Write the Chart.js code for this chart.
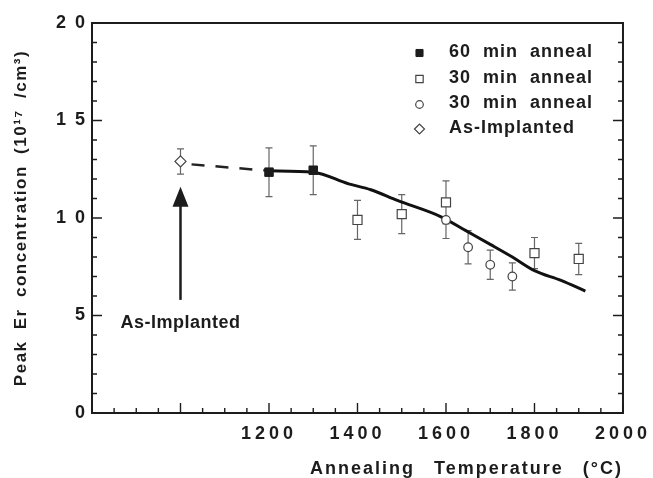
<!DOCTYPE html>
<html>
<head>
<meta charset="utf-8">
<script src="https://cdn.jsdelivr.net/npm/chart.js@4/dist/chart.umd.min.js"></script>
<style>
html,body{margin:0;padding:0;background:#fff;}
#wrap{width:653px;height:478px;position:relative;}
</style>
</head>
<body>
<div id="wrap"><canvas id="c"></canvas></div>
<script>
// ---- data ----
const temp60 = [1200, 1300];
const conc60 = [12.35, 12.45];
const err60 = [1.25, 1.25];

const temp30sq = [1400, 1500, 1600, 1800, 1900];
const conc30sq = [9.9, 10.2, 10.8, 8.2, 7.9];
const err30sq = [1.0, 1.0, 1.1, 0.8, 0.8];

const temp30ci = [1600, 1650, 1700, 1750];
const conc30ci = [9.9, 8.5, 7.6, 7.0];
const err30ci = [0.95, 0.85, 0.75, 0.7];

const tempImpl = [1000];
const concImpl = [12.9];
const errImpl = [0.65];

const fitTemp = [1200, 1300, 1380, 1430, 1490, 1590, 1645, 1700, 1750, 1800, 1860, 1915];
const fitConc = [12.42, 12.35, 11.75, 11.45, 10.9, 10.05, 9.35, 8.65, 8.0, 7.3, 6.8, 6.25];

const dashTemp = [1025, 1200];
const dashConc = [12.75, 12.42];

const xTickLabels = [1200, 1400, 1600, 1800, 2000];
const yTickValues = [0, 5, 10, 15, 20];
const yTickTexts = ['0', '5', '1 0', '1 5', '2 0'];

const arrowTemp = 1000;
const arrowFrom = 5.8;
const arrowTip = 11.6;
const arrowLabel = 'As-Implanted';
const arrowLabelY = 4.6;

const legendLabels = ['60 min anneal', '30 min anneal', '30 min anneal', 'As-Implanted'];

// tick positions (every 50 °C, every 1 unit)
const xTickPositions = [];
for (let v = 800; v <= 2000; v += 50) xTickPositions.push(v);
const yTickPositions = [];
for (let v = 0; v <= 20; v += 1) yTickPositions.push(v);

const pts = (xs, ys) => xs.map((x, i) => ({x: x, y: ys[i]}));

const FONT = "'Liberation Sans', Arial, Helvetica, sans-serif";
const INK = '#1c1c1c';
Chart.defaults.font.family = FONT;
Chart.defaults.color = INK;

const datasets = [
  {label: legendLabels[0], data: pts(temp60, conc60), errors: err60,
   pointStyle: 'rect', pointRadius: 6, pointBackgroundColor: '#1c1c1c', pointBorderColor: '#1c1c1c',
   pointBorderWidth: 1, showLine: false, order: 0, legendRadius: 5},
  {label: legendLabels[1], data: pts(temp30sq, conc30sq), errors: err30sq,
   pointStyle: 'rect', pointRadius: 6.4, pointBackgroundColor: '#ffffff', pointBorderColor: '#444',
   pointBorderWidth: 1.2, showLine: false, order: 0, legendRadius: 5.2},
  {label: legendLabels[2], data: pts(temp30ci, conc30ci), errors: err30ci,
   pointStyle: 'circle', pointRadius: 4.3, pointBackgroundColor: '#ffffff', pointBorderColor: '#444',
   pointBorderWidth: 1.2, showLine: false, order: 0, legendRadius: 3.8},
  {label: legendLabels[3], data: pts(tempImpl, concImpl), errors: errImpl,
   pointStyle: 'rectRot', pointRadius: 5.5, pointBackgroundColor: '#ffffff', pointBorderColor: '#444',
   pointBorderWidth: 1.2, showLine: false, order: 0, legendRadius: 5},
  {label: 'fit', data: pts(fitTemp, fitConc), showLine: true, pointRadius: 0,
   borderColor: '#111', borderWidth: 3, tension: 0.4, cubicInterpolationMode: 'monotone', order: 2},
  {label: 'dash', data: pts(dashTemp, dashConc), showLine: true, pointRadius: 0,
   borderColor: '#222', borderWidth: 2.5, borderDash: [13, 11], order: 2}
];

const textSpacing = {
  id: 'textSpacing',
  afterLayout(chart) {
    const specs = {
      x: {labels: ['4px', '0px'], title: ['2px', '12px']},
      y: {labels: ['2px', '0px'], title: ['1.5px', '5px']}
    };
    for (const id of ['x', 'y']) {
      const s = chart.scales[id];
      if (!s || s._patched) continue;
      const sp = specs[id];
      const dl = s.drawLabels.bind(s), dt = s.drawTitle.bind(s);
      s.drawLabels = function (area) {
        const c = chart.ctx; c.save(); c.letterSpacing = sp.labels[0]; c.wordSpacing = sp.labels[1]; dl(area); c.restore();
      };
      s.drawTitle = function () {
        const c = chart.ctx; c.save(); c.letterSpacing = sp.title[0]; c.wordSpacing = sp.title[1]; dt(); c.restore();
      };
      s._patched = true;
    }
  }
};

const deco = {
  id: 'deco',
  beforeDatasetsDraw(chart) {
    const ctx = chart.ctx;
    const {left, right, top, bottom} = chart.chartArea;
    const xs = chart.scales.x, ys = chart.scales.y;
    ctx.save();
    // frame
    ctx.strokeStyle = INK;
    ctx.lineWidth = 2;
    ctx.strokeRect(left, top, right - left, bottom - top);
    // inward ticks
    ctx.lineWidth = 1.4;
    ctx.beginPath();
    xs.ticks.forEach(t => {
      const px = xs.getPixelForValue(t.value);
      const len = (t.value % 200 === 0) ? 10 : 5;
      ctx.moveTo(px, bottom); ctx.lineTo(px, bottom - len);
    });
    ys.ticks.forEach(t => {
      const py = ys.getPixelForValue(t.value);
      const len = (t.value % 5 === 0) ? 10 : 5;
      ctx.moveTo(left, py); ctx.lineTo(left + len, py);
      ctx.moveTo(right, py); ctx.lineTo(right - len, py);
    });
    ctx.stroke();
    // error bars
    ctx.strokeStyle = '#666';
    ctx.lineWidth = 1.2;
    ctx.beginPath();
    chart.data.datasets.forEach(ds => {
      if (!ds.errors) return;
      ds.data.forEach((p, i) => {
        const px = xs.getPixelForValue(p.x);
        const y1 = ys.getPixelForValue(p.y + ds.errors[i]);
        const y2 = ys.getPixelForValue(p.y - ds.errors[i]);
        ctx.moveTo(px, y1); ctx.lineTo(px, y2);
        ctx.moveTo(px - 3.5, y1); ctx.lineTo(px + 3.5, y1);
        ctx.moveTo(px - 3.5, y2); ctx.lineTo(px + 3.5, y2);
      });
    });
    ctx.stroke();
    ctx.restore();
  },
  afterDatasetsDraw(chart) {
    const ctx = chart.ctx;
    const xs = chart.scales.x, ys = chart.scales.y;
    ctx.save();
    // arrow
    const ax = xs.getPixelForValue(arrowTemp);
    const yFrom = ys.getPixelForValue(arrowFrom);
    const yTip = ys.getPixelForValue(arrowTip);
    const headLen = 20;
    ctx.strokeStyle = INK;
    ctx.lineWidth = 2.5;
    ctx.beginPath();
    ctx.moveTo(ax, yFrom); ctx.lineTo(ax, yTip + headLen - 2);
    ctx.stroke();
    ctx.fillStyle = INK;
    ctx.beginPath();
    ctx.moveTo(ax, yTip); ctx.lineTo(ax - 8, yTip + headLen); ctx.lineTo(ax + 8, yTip + headLen);
    ctx.closePath(); ctx.fill();
    // arrow label
    ctx.font = 'bold 18px ' + FONT;
    ctx.letterSpacing = '0.5px';
    ctx.textAlign = 'center';
    ctx.textBaseline = 'middle';
    ctx.fillText(arrowLabel, ax, ys.getPixelForValue(arrowLabelY));
    // legend
    const rowsY = [52, 78, 103.5, 128];
    ctx.letterSpacing = '1px';
    ctx.wordSpacing = '6px';
    ctx.textAlign = 'left';
    for (let i = 0; i < 4; i++) {
      const ds = chart.data.datasets[i];
      ctx.fillStyle = ds.pointBackgroundColor;
      ctx.strokeStyle = ds.pointBorderColor;
      ctx.lineWidth = ds.pointBorderWidth;
      Chart.helpers.drawPoint(ctx, {pointStyle: ds.pointStyle, radius: ds.legendRadius, borderWidth: ds.pointBorderWidth}, 419.5, rowsY[i] + 1);
      ctx.fillStyle = INK;
      ctx.fillText(ds.label, 449, rowsY[i]);
    }
    ctx.restore();
  }
};

new Chart(document.getElementById('c'), {
  type: 'scatter',
  data: {datasets: datasets},
  plugins: [textSpacing, deco],
  options: {
    responsive: true,
    maintainAspectRatio: false,
    animation: false,
    layout: {padding: {left: 0, right: 29, top: 23, bottom: 0}},
    plugins: {legend: {display: false}, tooltip: {enabled: false}},
    scales: {
      x: {
        type: 'linear', min: 800, max: 2000,
        afterBuildTicks: s => { s.ticks = xTickPositions.map(v => ({value: v})); },
        afterFit: s => { s.height = 65; },
        grid: {display: false, drawTicks: false},
        border: {display: false},
        ticks: {
          autoSkip: false, maxRotation: 0, minRotation: 0, padding: 10, color: INK,
          font: {size: 18, weight: 'bold'},
          callback: v => xTickLabels.includes(v) ? String(v) : ''
        },
        title: {display: true, text: 'Annealing Temperature (°C)', align: 'end', color: INK,
          font: {size: 18, weight: 'bold', lineHeight: 1}, padding: {top: 0, bottom: 0}}
      },
      y: {
        type: 'linear', min: 0, max: 20,
        afterBuildTicks: s => { s.ticks = yTickPositions.map(v => ({value: v})); },
        afterFit: s => { s.width = 92; },
        grid: {display: false, drawTicks: false},
        border: {display: false},
        ticks: {
          autoSkip: false, padding: 5, color: INK,
          font: {size: 18, weight: 'bold'},
          callback: v => { const k = yTickValues.indexOf(v); return k >= 0 ? yTickTexts[k] : ''; }
        },
        title: {display: true, text: 'Peak Er concentration (10¹⁷ /cm³)', color: INK,
          font: {size: 17, weight: 'bold', lineHeight: 1}, padding: {top: 12.5, bottom: 0}}
      }
    }
  }
});
</script>
</body>
</html>
